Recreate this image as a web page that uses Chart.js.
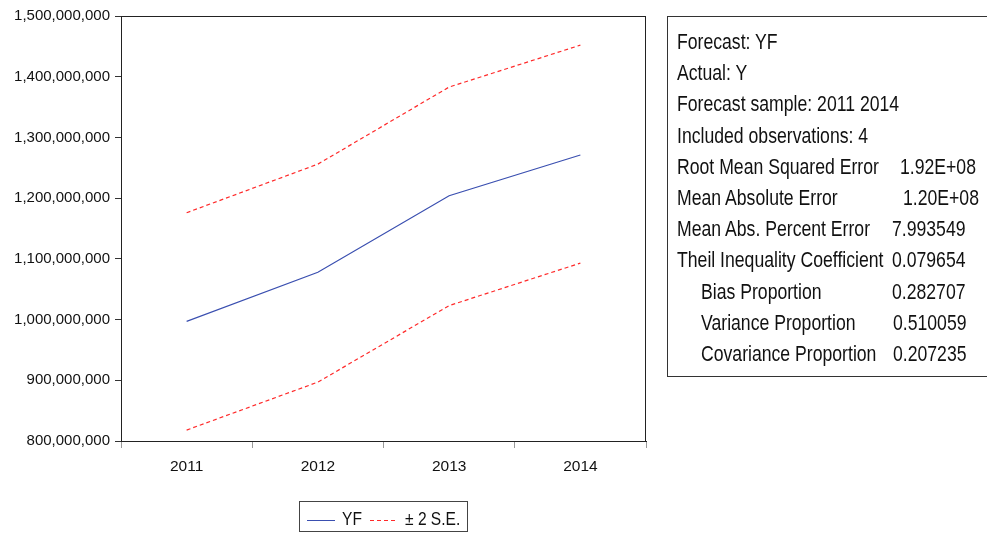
<!DOCTYPE html>
<html lang="en">
<head>
<meta charset="UTF-8">
<title>Forecast YF</title>
<script src="https://cdn.jsdelivr.net/npm/chart.js"></script>
<style>
    body { margin: 0; background: #fff; overflow: hidden; }
    #wrap { position: absolute; left: 0; top: 0; width: 987px; height: 533px; }
    #stats {
        position: absolute; left: 667px; top: 16px; width: 340px; height: 361px;
        border: 1px solid #333; box-sizing: border-box;
        font-family: 'Liberation Sans', Arial, sans-serif;
        font-size: 21.5px; color: #111;
    }
    #stats div {
        position: absolute; white-space: nowrap; line-height: 24px;
        transform: scaleX(0.82); transform-origin: left center;
    }
</style>
</head>
<body>
<div id="wrap"><canvas id="grafico"></canvas></div>
<div id="stats"></div>
<script>
    // dados
    const anos = ['2011', '2012', '2013', '2014'];
    const yf = [997000000, 1078000000, 1204000000, 1271000000];
    const superior = [1176000000, 1256000000, 1383000000, 1452000000];
    const inferior = [818000000, 897000000, 1023000000, 1093000000];
    const yMin = 800000000;
    const yMax = 1500000000;
    const yPasso = 100000000;

    const statsRotulos = ['Forecast: YF', 'Actual: Y', 'Forecast sample: 2011 2014', 'Included observations: 4',
        'Root Mean Squared Error', 'Mean Absolute Error', 'Mean Abs. Percent Error',
        'Theil Inequality Coefficient', '   Bias Proportion', '   Variance Proportion', '   Covariance Proportion'];
    const statsValores = ['', '', '', '', '1.92E+08', '1.20E+08', '7.993549', '0.079654', '0.282707', '0.510059', '0.207235'];
    const valorX = [0, 0, 0, 0, 232, 235, 224, 224, 224, 225, 225];

    const fonte = "'Liberation Sans', Arial, sans-serif";

    // caixa de estatisticas
    const stats = document.getElementById('stats');
    statsRotulos.forEach((rotulo, i) => {
        const topo = 42 + 31.2 * i - 16 - 1 - 12;
        const recuo = rotulo.startsWith('   ') ? 33 : 9;
        let d = document.createElement('div');
        d.style.left = recuo + 'px';
        d.style.top = topo + 'px';
        d.textContent = rotulo.trim();
        stats.appendChild(d);
        if (statsValores[i]) {
            let v = document.createElement('div');
            v.style.left = valorX[i] + 'px';
            v.style.top = topo + 'px';
            v.textContent = statsValores[i];
            stats.appendChild(v);
        }
    });

    function textoEstreito(ctx, texto, x, y) {
        ctx.save();
        ctx.translate(x, y);
        ctx.scale(0.82, 1);
        ctx.fillText(texto, 0, 0);
        ctx.restore();
    }

    const moldura = {
        id: 'moldura',
        afterDraw(chart) {
            const { ctx, chartArea: a } = chart;
            ctx.save();
            ctx.strokeStyle = '#222';
            ctx.lineWidth = 1;
            ctx.strokeRect(a.left + 0.5, a.top + 0.5, a.right - a.left - 1, a.bottom - a.top);
            ctx.restore();

            // legenda
            ctx.save();
            ctx.strokeStyle = '#444';
            ctx.lineWidth = 1;
            ctx.strokeRect(299.5, 501.5, 168, 30);
            const ly = 520.5;
            ctx.strokeStyle = chart.data.datasets[0].borderColor;
            ctx.beginPath(); ctx.moveTo(307, ly); ctx.lineTo(335, ly); ctx.stroke();
            ctx.strokeStyle = chart.data.datasets[1].borderColor;
            ctx.setLineDash([4, 3]);
            ctx.beginPath(); ctx.moveTo(370, ly); ctx.lineTo(398, ly); ctx.stroke();
            ctx.setLineDash([]);
            ctx.fillStyle = '#111';
            ctx.font = '19px ' + fonte;
            ctx.textBaseline = 'middle';
            textoEstreito(ctx, chart.data.datasets[0].label, 342, ly - 1);
            textoEstreito(ctx, chart.data.datasets[1].label, 405, ly - 1);
            ctx.restore();
        }
    };

    new Chart(document.getElementById('grafico'), {
        type: 'line',
        data: {
            labels: anos,
            datasets: [{
                label: 'YF',
                data: yf,
                borderColor: '#3a4fb0',
                borderWidth: 1.2,
                pointRadius: 0,
                tension: 0
            }, {
                label: '± 2 S.E.',
                data: superior,
                borderColor: '#ff2a2a',
                borderWidth: 1.2,
                borderDash: [4, 3],
                pointRadius: 0,
                tension: 0
            }, {
                label: '± 2 S.E.',
                data: inferior,
                borderColor: '#ff2a2a',
                borderWidth: 1.2,
                borderDash: [4, 3],
                pointRadius: 0,
                tension: 0
            }]
        },
        options: {
            responsive: true,
            maintainAspectRatio: false,
            animation: false,
            layout: { padding: { left: 0, top: 16, right: 341, bottom: 52 } },
            plugins: {
                legend: { display: false },
                tooltip: { enabled: false }
            },
            scales: {
                x: {
                    offset: true,
                    afterFit: (s) => { s.height = 40; },
                    grid: { drawOnChartArea: false, drawTicks: true, tickLength: 7, offset: true, color: '#999' },
                    border: { display: true, color: '#222' },
                    ticks: { color: '#111', padding: 9, font: { family: fonte, size: 15.5 } }
                },
                y: {
                    min: yMin,
                    max: yMax,
                    afterFit: (s) => { s.width = 121; },
                    grid: { drawOnChartArea: false, drawTicks: true, tickLength: 6, color: '#333' },
                    border: { display: true, color: '#222' },
                    ticks: {
                        stepSize: yPasso,
                        color: '#111',
                        padding: 5,
                        font: { family: fonte, size: 15 },
                        callback: (v) => v.toLocaleString('en-US')
                    }
                }
            }
        },
        plugins: [moldura]
    });
</script>
</body>
</html>
